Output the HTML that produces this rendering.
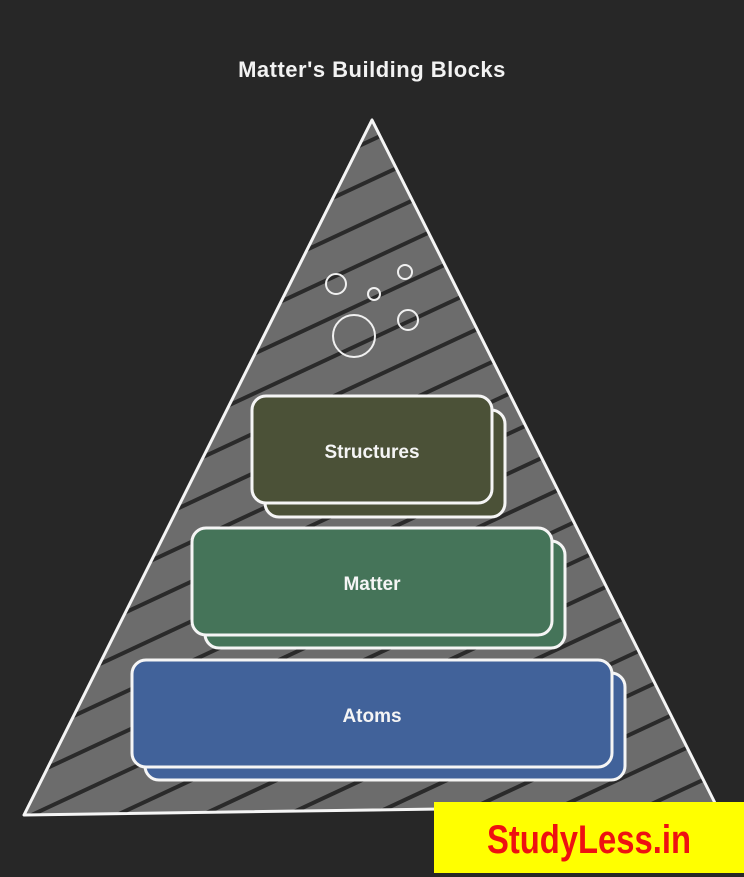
<!DOCTYPE html>
<html><head><meta charset="utf-8"><style>
html,body{margin:0;padding:0;background:#272727;}
svg{display:block}
</style></head><body>
<svg width="744" height="877" viewBox="0 0 744 877" xmlns="http://www.w3.org/2000/svg">
<defs>
<pattern id="hatch" width="40" height="36" patternUnits="userSpaceOnUse" patternTransform="rotate(-25)">
<rect width="40" height="36" fill="#6c6c6c"/>
<rect y="30" width="40" height="4" fill="#2a2a2a"/>
</pattern>
</defs>
<rect width="744" height="877" fill="#272727"/>
<text x="372" y="77" text-anchor="middle" font-family="Liberation Sans, sans-serif" font-weight="bold" font-size="22" fill="#f2f2f2" letter-spacing="0.5">Matter's Building Blocks</text>
<polygon points="372,120 24,815 716,805" fill="url(#hatch)" stroke="#f5f5f5" stroke-width="3" stroke-linejoin="round"/>
<g fill="none" stroke="#f0f0f0" stroke-width="2">
<circle cx="336" cy="284" r="10"/>
<circle cx="374" cy="294" r="6"/>
<circle cx="405" cy="272" r="7"/>
<circle cx="408" cy="320" r="10"/>
<circle cx="354" cy="336" r="21"/>
</g>
<g stroke="#f5f5f5" stroke-width="3">
<rect x="265" y="410" width="240" height="107" rx="14" fill="#4b5137"/>
<rect x="252" y="396" width="240" height="107" rx="14" fill="#4b5137"/>
<rect x="205" y="541" width="360" height="107" rx="14" fill="#457459"/>
<rect x="192" y="528" width="360" height="107" rx="14" fill="#457459"/>
<rect x="145" y="673" width="480" height="107" rx="14" fill="#41629a"/>
<rect x="132" y="660" width="480" height="107" rx="14" fill="#41629a"/>
</g>
<g font-family="Liberation Sans, sans-serif" font-weight="bold" font-size="19" fill="#f5f5f5" text-anchor="middle">
<text x="372" y="458">Structures</text>
<text x="372" y="590">Matter</text>
<text x="372" y="722">Atoms</text>
</g>
<rect x="434" y="802" width="310" height="71" fill="#ffff00"/>
<text x="589" y="853" text-anchor="middle" font-family="Liberation Sans, sans-serif" font-weight="bold" font-size="40" fill="#ee1111" transform="translate(589 0) scale(0.82 1) translate(-589 0)">StudyLess.in</text>
</svg>
</body></html>
